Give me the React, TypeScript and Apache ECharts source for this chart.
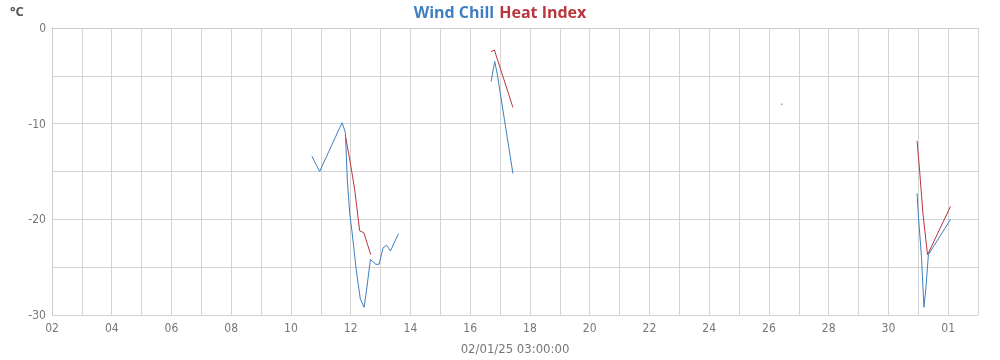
import React, { useEffect, useRef } from "react";
import * as echarts from "echarts";

// x values are days (Jan 2 = 2 ... Feb 1 = 32), y values in °C
const windChillSeg1: [number, number][] = [
  [10.70, -13.4], [10.96, -15.0], [11.71, -9.9], [11.82, -10.9], [11.89, -16.1],
  [11.97, -19.5], [12.04, -21.2], [12.19, -25.4], [12.32, -28.3], [12.45, -29.2],
  [12.53, -27.4], [12.66, -24.2], [12.84, -24.7], [12.95, -24.7], [13.08, -23.0],
  [13.20, -22.7], [13.33, -23.3], [13.60, -21.5],
];
const windChillSeg2: [number, number][] = [
  [16.70, -5.6], [16.82, -3.5], [16.90, -4.7], [17.43, -15.2],
];
const windChillDot: [number, number][] = [[26.43, -7.97]];
const windChillSeg3: [number, number][] = [
  [30.96, -17.3], [31.01, -19.9], [31.11, -24.0], [31.19, -29.2], [31.25, -27.4],
  [31.34, -23.7], [32.08, -20.0],
];

const heatIndexSeg1: [number, number][] = [
  [11.82, -11.2], [11.97, -13.8], [12.13, -16.8], [12.30, -21.2], [12.44, -21.4], [12.67, -23.7],
];
const heatIndexSeg2: [number, number][] = [
  [16.70, -2.5], [16.81, -2.3], [17.43, -8.3],
];
const heatIndexSeg3: [number, number][] = [
  [30.96, -11.8], [31.03, -14.3], [31.16, -19.5], [31.31, -23.7], [32.08, -18.65],
];

const xTitle = "02/01/25 03:00:00";
const unitLabel = "°C";

const BLUE = "#3d7fc0";
const RED = "#b8363c";

function joinSegments(segs: [number, number][][]): (number | null)[][] {
  const out: (number | null)[][] = [];
  segs.forEach((s, i) => {
    if (i > 0) out.push([(segs[i - 1][segs[i - 1].length - 1][0] + s[0][0]) / 2, null]);
    s.forEach((p) => out.push(p));
  });
  return out;
}

export default function App() {
  const ref = useRef<HTMLDivElement>(null);
  useEffect(() => {
    if (!ref.current) return;
    const chart = echarts.init(ref.current, undefined, { renderer: "svg" });
    const tickFont = "'Liberation Sans Narrow', 'DejaVu Sans Condensed', sans-serif";
    chart.setOption({
      animation: false,
      title: {
        text: "{a|Wind Chill} {b|Heat Index}",
        left: "center",
        top: -2,
        textStyle: {
          rich: {
            a: { color: BLUE, fontSize: 16, fontWeight: "bold", fontFamily: "'Open Sans', sans-serif" },
            b: { color: RED, fontSize: 16, fontWeight: "bold", fontFamily: "'Open Sans', sans-serif" },
          },
        },
      },
      graphic: [
        {
          type: "text",
          left: 10,
          top: 4,
          style: {
            text: unitLabel,
            fill: "#555",
            fontSize: 13,
            fontWeight: "bold",
            fontFamily: "'Open Sans', sans-serif",
          },
        },
      ],
      grid: { left: 52, right: 22, top: 28, bottom: 42, containLabel: false },
      xAxis: {
        type: "value",
        min: 2,
        max: 33,
        interval: 1,
        name: xTitle,
        nameLocation: "middle",
        nameGap: 27,
        nameTextStyle: { color: "#777", fontSize: 13, fontFamily: tickFont },
        axisLine: { show: true, lineStyle: { color: "#ccc" } },
        axisTick: { show: false },
        axisLabel: {
          color: "#777",
          fontSize: 12,
          fontFamily: tickFont,
          margin: 7,
          formatter: (v: number) => {
            if (v % 2 !== 0 || v > 32) return "";
            const d = v > 31 ? v - 31 : v;
            return String(d).padStart(2, "0");
          },
        },
        splitLine: { show: true, lineStyle: { color: "#d3d3d3", width: 1 } },
      },
      yAxis: {
        type: "value",
        min: -30,
        max: 0,
        interval: 5,
        axisLine: { show: true, lineStyle: { color: "#ccc" } },
        axisTick: { show: false },
        axisLabel: {
          color: "#777",
          fontSize: 12,
          fontFamily: tickFont,
          margin: 6,
          formatter: (v: number) => (v % 10 === 0 ? String(v) : ""),
        },
        splitLine: { show: true, lineStyle: { color: "#d3d3d3", width: 1 } },
      },
      series: [
        {
          name: "Heat Index",
          type: "line",
          data: joinSegments([heatIndexSeg1, heatIndexSeg2, heatIndexSeg3]),
          showSymbol: false,
          connectNulls: false,
          lineStyle: { color: RED, width: 1 },
          itemStyle: { color: RED },
        },
        {
          name: "Wind Chill",
          type: "line",
          data: joinSegments([windChillSeg1, windChillSeg2, windChillSeg3]),
          showSymbol: false,
          connectNulls: false,
          lineStyle: { color: BLUE, width: 1 },
          itemStyle: { color: BLUE },
        },
        {
          name: "Wind Chill point",
          type: "scatter",
          data: windChillDot,
          symbolSize: 1.5,
          itemStyle: { color: BLUE },
        },
      ],
    });
    return () => chart.dispose();
  }, []);
  return (
    <div
      ref={ref}
      style={{ position: "fixed", left: 0, top: 0, width: 1000, height: 360 }}
    />
  );
}
